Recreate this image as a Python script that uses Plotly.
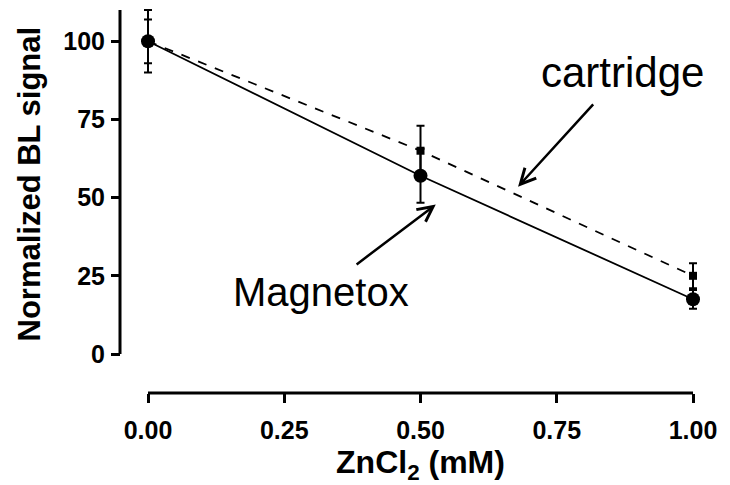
import plotly.graph_objects as go

# Data
zncl2_mM = [0.0, 0.5, 1.0]
magnetox_signal = [100.0, 57.0, 17.5]
magnetox_err = [7.0, 8.6, 3.0]
cartridge_signal = [100.0, 65.0, 25.0]
cartridge_err = [10.0, 8.0, 4.0]

x_ticks = [0.0, 0.25, 0.5, 0.75, 1.0]
x_ticklabels = ["0.00", "0.25", "0.50", "0.75", "1.00"]
y_ticks = [0, 25, 50, 75, 100]
x_axis_span = [0.0, 1.0]
y_axis_span = [0.0, 110.0]

# The page draws the figure 8 px in from the top-left corner of the window,
# so the figure is sized to fill the rest of the 730x485 window.
PAGE_OFF = 8
W, H = 730 - PAGE_OFF, 485 - PAGE_OFF
FONT = "Liberation Sans, Arial, sans-serif"


def fx(px):  # window pixel x -> paper fraction
    return (px - PAGE_OFF) / W


def fy(py):  # window pixel y -> paper fraction
    return 1 - (py - PAGE_OFF) / H


# window pixels where x=0, x=1, y=0, y=110 land
X0_PX, X1_PX = 148, 693
Y0_PX, Y110_PX = 354, 10
XPAD = 0.03
YLO, YHI = -2.0, 110.6
xppu = (X1_PX - X0_PX) / 1.0
yppu = (Y0_PX - Y110_PX) / 110.0

fig = go.Figure()

fig.add_trace(go.Scatter(
    x=zncl2_mM, y=magnetox_signal, name="Magnetox",
    mode="lines+markers",
    line=dict(color="black", width=1.8),
    marker=dict(symbol="circle", size=14, color="black"),
    error_y=dict(type="data", array=magnetox_err, color="black", thickness=2, width=4),
    cliponaxis=False,
))
fig.add_trace(go.Scatter(
    x=zncl2_mM, y=cartridge_signal, name="cartridge",
    mode="lines+markers",
    line=dict(color="black", width=1.8, dash="dash"),
    marker=dict(symbol="square", size=8, color="black"),
    error_y=dict(type="data", array=cartridge_err, color="black", thickness=2, width=4),
    cliponaxis=False,
))

fig.update_layout(
    width=W, height=H,
    margin=dict(l=0, r=0, t=0, b=0, autoexpand=False),
    paper_bgcolor="white", plot_bgcolor="white",
    showlegend=False,
    font=dict(family=FONT, color="black"),
    xaxis=dict(
        domain=[fx(X0_PX - XPAD * xppu), fx(X1_PX + XPAD * xppu)],
        range=[-XPAD, 1 + XPAD],
        anchor="free", position=fy(393),
        automargin=False,
        tickvals=x_ticks, ticktext=x_ticklabels,
        ticks="outside", ticklen=9, tickwidth=2.5, tickcolor="black",
        ticklabelstandoff=6,
        showline=False,
        showgrid=False, zeroline=False,
        tickfont=dict(family=FONT, size=25, weight="bold"),
        title=dict(text="ZnCl<sub>2</sub> (mM)", standoff=8,
                   font=dict(family=FONT, size=32, weight="bold")),
    ),
    yaxis=dict(
        domain=[fy(Y0_PX - YLO * yppu), fy(Y0_PX - YHI * yppu)],
        range=[YLO, YHI],
        anchor="free", position=fx(120),
        automargin=False,
        tickvals=y_ticks,
        ticks="outside", ticklen=9, tickwidth=2.5, tickcolor="black",
        ticklabelstandoff=1,
        showline=False,
        showgrid=False, zeroline=False,
        tickfont=dict(family=FONT, size=25, weight="bold"),
        title=dict(text="Normalized BL signal", standoff=12,
                   font=dict(family=FONT, size=31, weight="bold")),
    ),
)

# Axis lines that span only the data ranges (detached axes)
fig.add_shape(type="line", xref="x", yref="paper",
              x0=x_axis_span[0], x1=x_axis_span[1], y0=fy(393), y1=fy(393),
              line=dict(color="black", width=3))
fig.add_shape(type="line", xref="paper", yref="y",
              x0=fx(120), x1=fx(120), y0=y_axis_span[0], y1=y_axis_span[1],
              line=dict(color="black", width=3))

# Labels with arrows pointing at the curves
fig.add_annotation(x=0.528, y=47.8, ax=-115, ay=87, text="Magnetox",
                   showarrow=True, arrowhead=5, arrowsize=1.2, arrowwidth=2.5,
                   arrowcolor="black", standoff=0, startstandoff=6,
                   font=dict(family=FONT, size=40, color="black"))
fig.add_annotation(x=0.679, y=53.5, ax=104, ay=-114, text="cartridge",
                   showarrow=True, arrowhead=5, arrowsize=1.2, arrowwidth=2.5,
                   arrowcolor="black", standoff=0, startstandoff=9,
                   font=dict(family=FONT, size=42, color="black"))

fig.write_html("out.html")
